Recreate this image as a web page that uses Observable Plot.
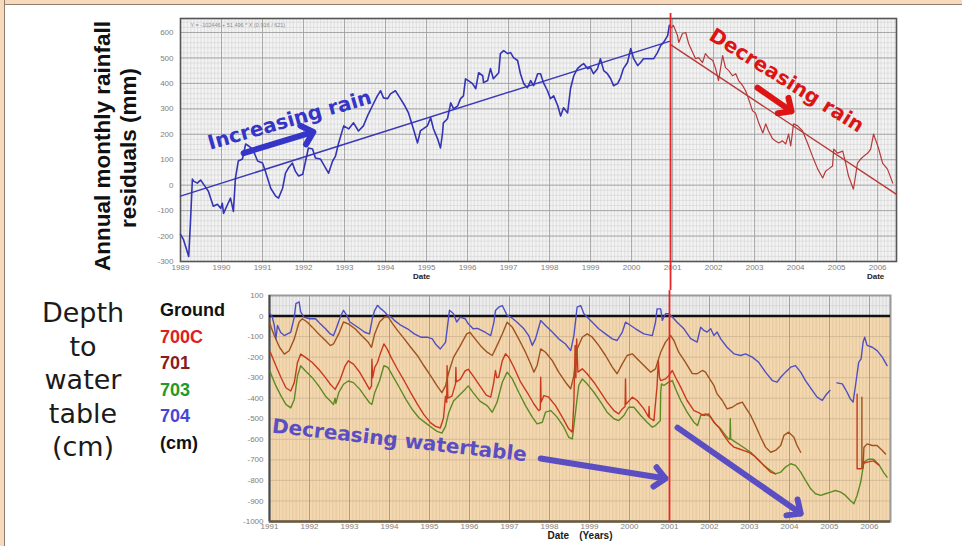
<!DOCTYPE html>
<html>
<head>
<meta charset="utf-8">
<script src="https://cdn.jsdelivr.net/npm/d3@7"></script>
<script src="https://cdn.jsdelivr.net/npm/@observablehq/plot@0.6"></script>
<style>
  html, body { margin: 0; padding: 0; background: #fff; }
  #page { position: relative; width: 962px; height: 546px; overflow: hidden; background: #fff;
          font-family: "Liberation Sans", Arial, sans-serif; }
  #page svg { position: absolute; left: 0; }
  .edge-top { position: absolute; left: 0; top: 0; width: 962px; height: 4px; background: #f7d9bb;
              border-bottom: 1.5px solid #8f7e70; }
  .edge-left { position: absolute; left: 0; top: 0; width: 4px; height: 546px; background: #f7d9bb;
               border-right: 1.5px solid #8f7e70; }
  .ylab { position: absolute; transform: translate(-50%, -50%) rotate(-90deg); white-space: nowrap;
          font-weight: bold; font-size: 22.5px; color: #111; }
  .depth { position: absolute; left: 20px; top: 296px; width: 126px; text-align: center;
           font-family: "DejaVu Sans", Verdana, sans-serif; font-size: 27px; line-height: 33.5px; color: #1b1b1b; }
  .legend { position: absolute; left: 160px; top: 297px; font-weight: bold; font-size: 18px; line-height: 26.6px; }
</style>
</head>
<body>
<div id="page">
  <div class="edge-top"></div>
  <div class="edge-left"></div>
</div>
<script>
// Annual monthly rainfall residuals (mm), rising phase 1989 – late 2000
const rainResidualsRising = [
  [1989.0,-193],[1989.07,-213],[1989.2,-280],[1989.24,-154],[1989.29,24],[1989.32,16],[1989.41,8],[1989.49,20],
  [1989.56,4],[1989.68,-24],[1989.8,-83],[1989.9,-75],[1989.98,-91],[1990.02,-71],[1990.05,-111],[1990.15,-75],
  [1990.22,-51],[1990.29,-103],[1990.34,28],[1990.41,95],[1990.51,103],[1990.59,162],[1990.66,154],[1990.76,142],
  [1990.88,95],[1991.0,87],[1991.07,55],[1991.2,-12],[1991.32,-43],[1991.39,-51],[1991.49,-12],[1991.56,47],
  [1991.63,67],[1991.73,87],[1991.8,55],[1991.88,36],[1991.98,43],[1992.05,95],[1992.12,146],[1992.22,142],
  [1992.29,107],[1992.41,103],[1992.54,67],[1992.61,47],[1992.71,95],[1992.78,114],[1992.85,162],[1992.98,233],
  [1993.1,221],[1993.22,245],[1993.34,213],[1993.46,233],[1993.56,272],[1993.68,312],[1993.8,351],[1993.88,371],
  [1993.95,343],[1994.05,340],[1994.12,359],[1994.24,371],[1994.32,351],[1994.44,320],[1994.56,284],[1994.68,221],
  [1994.78,166],[1994.85,213],[1995.02,233],[1995.1,265],[1995.17,221],[1995.27,182],[1995.34,146],[1995.39,205],
  [1995.41,245],[1995.51,261],[1995.59,324],[1995.66,300],[1995.76,312],[1995.83,340],[1995.9,351],[1995.95,418],
  [1996.02,411],[1996.12,399],[1996.2,379],[1996.27,442],[1996.37,430],[1996.39,403],[1996.49,411],[1996.56,458],
  [1996.63,418],[1996.76,442],[1996.8,517],[1996.88,529],[1996.98,517],[1997.05,521],[1997.12,501],[1997.22,490],
  [1997.29,438],[1997.37,399],[1997.46,383],[1997.54,411],[1997.61,391],[1997.71,438],[1997.78,438],[1997.85,403],
  [1997.95,371],[1998.02,340],[1998.1,351],[1998.2,312],[1998.27,272],[1998.34,304],[1998.44,284],[1998.51,379],
  [1998.59,430],[1998.68,458],[1998.76,470],[1998.83,478],[1998.93,458],[1999.0,462],[1999.07,438],[1999.17,458],
  [1999.24,497],[1999.32,450],[1999.41,438],[1999.49,418],[1999.56,391],[1999.66,399],[1999.73,422],[1999.8,458],
  [1999.9,482],[1999.98,537],[2000.05,497],[2000.15,470],[2000.22,482],[2000.29,497],[2000.39,497],[2000.46,497],
  [2000.54,497],[2000.63,521],[2000.71,549],[2000.78,561],[2000.88,588],[2000.92,628]
];

// Annual monthly rainfall residuals (mm), falling phase 2001 – 2006
const rainResidualsFalling = [
  [2000.95,616],[2001.02,628],[2001.12,588],[2001.15,561],[2001.24,596],[2001.32,600],[2001.39,557],[2001.49,521],
  [2001.56,497],[2001.63,501],[2001.73,482],[2001.8,517],[2001.88,501],[2001.98,490],[2002.05,458],[2002.12,411],
  [2002.22,509],[2002.29,462],[2002.37,450],[2002.46,430],[2002.54,438],[2002.61,411],[2002.71,391],[2002.78,371],
  [2002.85,340],[2002.95,292],[2003.02,284],[2003.1,245],[2003.2,205],[2003.27,241],[2003.34,213],[2003.44,182],
  [2003.51,174],[2003.59,166],[2003.68,174],[2003.76,162],[2003.83,201],[2003.88,154],[2003.95,241],[2004.05,233],
  [2004.17,213],[2004.29,166],[2004.41,114],[2004.54,63],[2004.66,28],[2004.73,55],[2004.8,63],[2004.9,75],
  [2004.93,142],[2005.02,126],[2005.15,134],[2005.22,87],[2005.29,36],[2005.41,-16],[2005.51,87],[2005.59,103],
  [2005.66,114],[2005.76,126],[2005.83,142],[2005.9,201],[2006.02,146],[2006.12,87],[2006.24,63],[2006.37,8]
];

// Linear trends fitted to each phase
const trendRising = [[1989.0, -43], [2000.92, 565]];
const trendFalling = [[2000.95, 552], [2006.46, -36]];

// Depth to water table (cm) at the bores
const depth704 = [
  [1991.02,10],[1991.07,-5],[1991.12,-46],[1991.16,-111],[1991.2,-46],[1991.28,-80],[1991.37,-95],[1991.45,-87],
  [1991.53,-79],[1991.62,-5],[1991.66,61],[1991.74,69],[1991.78,20],[1991.86,-5],[1992.0,-13],[1992.15,-13],
  [1992.27,-38],[1992.4,-62],[1992.52,-87],[1992.6,-95],[1992.68,-54],[1992.77,-5],[1992.85,28],[1992.93,3],
  [1993.01,-29],[1993.14,-46],[1993.26,-62],[1993.38,-79],[1993.5,-87],[1993.57,-13],[1993.63,28],[1993.7,52],
  [1993.78,36],[1993.88,20],[1993.96,3],[1994.04,-5],[1994.12,-21],[1994.29,-46],[1994.45,-62],[1994.62,-87],
  [1994.78,-103],[1994.94,-103],[1995.07,-111],[1995.15,-136],[1995.27,-160],[1995.4,-128],[1995.5,28],[1995.6,11],
  [1995.68,-29],[1995.77,-5],[1995.89,-13],[1995.97,-38],[1996.09,-62],[1996.2,-60],[1996.4,-80],[1996.53,-95],
  [1996.61,-30],[1996.65,27],[1996.73,43],[1996.82,51],[1996.88,27],[1996.94,3],[1997.03,-5],[1997.19,-30],
  [1997.36,-62],[1997.48,-95],[1997.57,-143],[1997.65,-111],[1997.78,-22],[1997.9,-46],[1998.07,-78],[1998.23,-111],
  [1998.4,-136],[1998.53,-168],[1998.61,-95],[1998.69,43],[1998.78,51],[1998.86,11],[1998.94,-5],[1999.07,-30],
  [1999.23,-62],[1999.4,-87],[1999.57,-111],[1999.69,-119],[1999.82,-78],[1999.9,-30],[2000.03,-46],[2000.15,-62],
  [2000.36,-87],[2000.57,-95],[2000.65,-30],[2000.69,35],[2000.78,35],[2000.82,-21],[2000.9,11],[2000.98,11],
  [2001.07,-5],[2001.19,-30],[2001.36,-62],[2001.53,-110],[2001.69,-127],[2001.78,-54],[2001.86,-70],[2001.94,-78],
  [2002.03,-62],[2002.11,-95],[2002.19,-78],[2002.28,-111],[2002.44,-152],[2002.61,-184],[2002.78,-192],[2002.9,-184],
  [2003.07,-200],[2003.23,-225],[2003.4,-273],[2003.57,-314],[2003.69,-322],[2003.78,-298],[2003.9,-273],[2004.03,-249],
  [2004.15,-241],[2004.28,-273],[2004.4,-314],[2004.57,-362],[2004.69,-395],[2004.82,-411],[2004.9,-387],[2005.01,-362],
  [2005.1,null],
  [2005.19,-325],[2005.32,-330],[2005.44,-371],[2005.52,-403],[2005.59,-419],[2005.65,-338],[2005.73,-225],[2005.79,-208],
  [2005.84,-127],[2005.88,-103],[2005.94,-143],[2006.07,-152],[2006.19,-168],[2006.32,-200],[2006.44,-241]
];

const depth701 = [
  [1991.02,-40],[1991.04,-54],[1991.12,-95],[1991.25,-152],[1991.37,-185],[1991.49,-169],[1991.62,-111],[1991.74,-29],
  [1991.82,-13],[1991.94,-29],[1992.07,-54],[1992.23,-87],[1992.4,-119],[1992.52,-144],[1992.6,-136],[1992.73,-87],
  [1992.85,-29],[1992.97,-38],[1993.14,-62],[1993.3,-95],[1993.47,-128],[1993.55,-152],[1993.63,-87],[1993.75,-29],
  [1993.88,-5],[1993.97,-5],[1994.08,-38],[1994.2,-70],[1994.37,-111],[1994.53,-152],[1994.7,-193],[1994.86,-242],
  [1995.03,-291],[1995.19,-340],[1995.31,-373],[1995.4,-340],[1995.48,-275],[1995.6,-201],[1995.77,-144],[1995.93,-87],
  [1996.01,-79],[1996.14,-111],[1996.3,-150],[1996.44,-176],[1996.57,-192],[1996.69,-143],[1996.82,-87],[1996.94,-30],
  [1997.07,-54],[1997.23,-111],[1997.4,-176],[1997.53,-233],[1997.61,-273],[1997.69,-241],[1997.78,-160],[1997.9,-176],
  [1998.07,-217],[1998.23,-273],[1998.4,-322],[1998.53,-354],[1998.61,-290],[1998.69,-160],[1998.82,-103],[1998.94,-87],
  [1999.07,-103],[1999.23,-143],[1999.4,-192],[1999.57,-249],[1999.69,-281],[1999.82,-233],[1999.94,-192],[2000.07,-184],
  [2000.19,-208],[2000.36,-241],[2000.53,-273],[2000.65,-257],[2000.78,-176],[2000.9,-127],[2001.03,-95],[2001.11,-119],
  [2001.23,-176],[2001.4,-225],[2001.57,-280],[2001.69,-281],[2001.82,-265],[2001.9,-273],[2001.98,-298],[2002.11,-338],
  [2002.19,-379],[2002.32,-411],[2002.44,-452],[2002.57,-444],[2002.69,-428],[2002.82,-419],[2002.9,-444],[2003.03,-484],
  [2003.15,-533],[2003.28,-590],[2003.4,-638],[2003.53,-663],[2003.65,-654],[2003.78,-630],[2003.86,-581],[2003.98,-565],
  [2004.11,-590],[2004.19,-630],[2004.28,-663],
  [2005.0,null],
  [2005.81,-395],[2005.81,-740],[2005.84,-740],[2005.86,-640],[2005.94,-622],[2006.07,-630],[2006.19,-630],[2006.32,-654],
  [2006.4,-671]
];

const depth700C = [
  [1991.02,-175],[1991.04,-185],[1991.16,-242],[1991.29,-300],[1991.41,-349],[1991.53,-365],[1991.62,-324],[1991.7,-226],
  [1991.78,-185],[1991.9,-201],[1992.07,-226],[1992.23,-259],[1992.4,-300],[1992.52,-332],[1992.64,-357],[1992.77,-308],
  [1992.89,-242],[1992.97,-218],[1993.1,-234],[1993.26,-275],[1993.38,-316],[1993.5,-357],[1993.55,-340],[1993.56,-210],
  [1993.58,-300],[1993.63,-250],[1993.7,-226],[1993.78,-177],[1993.86,-136],[1993.94,-160],[1994.04,-201],[1994.2,-259],
  [1994.37,-316],[1994.53,-373],[1994.7,-430],[1994.86,-480],[1995.03,-520],[1995.15,-537],[1995.27,-545],[1995.35,-496],
  [1995.4,-390],[1995.43,-420],[1995.44,-242],[1995.46,-400],[1995.56,-390],[1995.65,-330],[1995.66,-250],[1995.67,-320],
  [1995.77,-308],[1995.89,-267],[1995.97,-259],[1996.09,-291],[1996.26,-340],[1996.42,-385],[1996.53,-395],[1996.6,-330],
  [1996.65,-265],[1996.68,-300],[1996.73,-298],[1996.82,-217],[1996.9,-184],[1996.98,-200],[1997.11,-249],[1997.28,-322],
  [1997.44,-371],[1997.61,-428],[1997.73,-460],[1997.77,-455],[1997.78,-298],[1997.79,-420],[1997.86,-387],[1997.98,-395],
  [1998.15,-436],[1998.32,-492],[1998.48,-549],[1998.57,-565],[1998.61,-419],[1998.64,-143],[1998.66,-300],[1998.68,-111],
  [1998.71,-273],[1998.82,-257],[1998.94,-281],[1999.11,-322],[1999.28,-371],[1999.44,-419],[1999.61,-460],[1999.73,-476],
  [1999.82,-452],[1999.89,-440],[1999.9,-306],[1999.91,-430],[2000.07,-395],[2000.19,-411],[2000.36,-452],[2000.48,-492],
  [2000.49,-440],[2000.5,-495],[2000.61,-509],[2000.69,-338],[2000.72,-217],[2000.75,-300],[2000.78,-314],[2000.9,-306],
  [2000.98,-290],[2001.07,-265],[2001.15,-298],[2001.28,-346],[2001.44,-411],[2001.61,-460],[2001.73,-470],[2001.78,-476],
  [2001.86,-484],[2001.98,-476],[2002.11,-517],[2002.23,-541],[2002.36,-581],[2002.48,-614],[2002.61,-638],[2002.73,-646],
  [2002.86,-655],[2002.98,-663],[2003.11,-679],[2003.28,-711],[2003.4,-735],[2003.53,-760],[2003.65,-768],
  [2004.5,null],
  [2005.69,-380],[2005.69,-743],[2005.8,-743],[2005.86,-715],[2005.97,-710],[2006.1,-705],[2006.23,-725]
];

const depth703 = [
  [1991.02,-270],[1991.04,-283],[1991.16,-340],[1991.29,-390],[1991.41,-430],[1991.53,-447],[1991.62,-406],[1991.7,-291],
  [1991.78,-242],[1991.9,-267],[1992.07,-300],[1992.23,-340],[1992.4,-390],[1992.52,-414],[1992.6,-430],[1992.64,-400],
  [1992.66,-425],[1992.73,-373],[1992.85,-332],[1992.97,-316],[1993.1,-324],[1993.26,-357],[1993.38,-390],[1993.5,-422],
  [1993.56,-430],[1993.63,-373],[1993.75,-316],[1993.86,-242],[1993.96,-250],[1994.08,-291],[1994.25,-349],[1994.41,-406],
  [1994.57,-455],[1994.74,-496],[1994.9,-520],[1995.07,-545],[1995.19,-561],[1995.31,-570],[1995.4,-537],[1995.48,-471],
  [1995.6,-414],[1995.77,-381],[1995.89,-357],[1995.97,-340],[1996.09,-373],[1996.26,-414],[1996.44,-436],[1996.57,-468],
  [1996.69,-419],[1996.82,-322],[1996.94,-273],[1997.07,-306],[1997.23,-371],[1997.4,-436],[1997.57,-492],[1997.69,-525],
  [1997.82,-517],[1997.9,-468],[1998.03,-460],[1998.19,-492],[1998.36,-541],[1998.48,-590],[1998.57,-598],[1998.65,-468],
  [1998.73,-338],[1998.82,-306],[1998.94,-330],[1999.11,-371],[1999.28,-419],[1999.44,-468],[1999.61,-500],[1999.73,-509],
  [1999.86,-484],[1999.98,-444],[2000.11,-444],[2000.28,-484],[2000.44,-517],[2000.57,-541],[2000.65,-533],[2000.73,-517],
  [2000.77,-510],[2000.78,-371],[2000.8,-330],[2000.86,-338],[2000.98,-322],[2001.07,-314],[2001.15,-354],[2001.28,-411],
  [2001.44,-468],[2001.61,-517],[2001.7,-533],[2001.78,-484],[2001.9,-476],[2002.03,-492],[2002.15,-525],[2002.28,-549],
  [2002.4,-581],[2002.48,-598],[2002.51,-600],[2002.52,-500],[2002.53,-598],[2002.65,-614],[2002.78,-630],[2002.9,-646],
  [2003.03,-663],[2003.19,-695],[2003.36,-728],[2003.53,-752],[2003.65,-768],[2003.78,-760],[2003.9,-735],[2004.03,-719],
  [2004.15,-727],[2004.28,-760],[2004.4,-800],[2004.53,-841],[2004.65,-865],[2004.78,-873],[2004.9,-865],[2005.03,-857],
  [2005.15,-849],[2005.28,-857],[2005.4,-873],[2005.52,-898],[2005.61,-914],[2005.69,-873],[2005.78,-808],[2005.86,-711],
  [2005.97,-697],[2006.1,-697],[2006.23,-722],[2006.36,-763],[2006.44,-784]
];

// Axis ticks
const rainYears = d3.range(1989, 2007);
const rainTicks = [600, 500, 400, 300, 200, 100, 0, -100, -200, -300];
const depthYears = d3.range(1991, 2007);
const depthTicks = [100, 0, -100, -200, -300, -400, -500, -600, -700, -800, -900, -1000];

const fx = (d) => d[0];
const fy = (d) => d[1];
const plain = (d) => String(d);
const arrowStyle = { strokeWidth: 6, headLength: 3.6, headAngle: 85, strokeLinejoin: "miter" };

// ---------- rainfall residuals ----------
const rainX = [1989, 2006.46];
const rainChart = Plot.plot({
  width: 962, height: 290,
  marginLeft: 180, marginRight: 66, marginTop: 18, marginBottom: 29,
  style: { background: "transparent", fontFamily: "'Liberation Sans', Arial, sans-serif", fontSize: "8px", color: "#808080", overflow: "visible" },
  x: { domain: rainX },
  y: { domain: [-300, 655] },
  marks: [
    Plot.frame({ fill: "#f3f3f3", stroke: null }),
    Plot.ruleX(d3.range(rainX[0], rainX[1], 1 / 12), { stroke: "#d3d3d3", strokeWidth: 0.6 }),
    Plot.ruleY(d3.range(-300, 655, 20), { stroke: "#d3d3d3", strokeWidth: 0.6 }),
    Plot.ruleX(rainYears, { stroke: "#a0a0a0", strokeWidth: 0.9 }),
    Plot.ruleY(rainTicks, { stroke: "#a0a0a0", strokeWidth: 0.9 }),
    Plot.frame({ stroke: "#555", strokeWidth: 1.6 }),
    Plot.axisX({ ticks: rainYears, tickFormat: plain, tickSize: 0, tickPadding: 3, label: null }),
    Plot.axisY({ ticks: rainTicks, tickFormat: plain, tickSize: 0, tickPadding: 7, label: null }),
    Plot.text(["Date"], { x: 1994.88, y: -300, dy: 15, fontWeight: "bold", fill: "#222", fontSize: 8 }),
    Plot.text(["Date"], { x: 2005.95, y: -300, dy: 15, fontWeight: "bold", fill: "#222", fontSize: 8 }),
    Plot.text(["Y = -102446 + 51.496 * X (0.916 / 621)"], { frameAnchor: "top-left", dx: 10, dy: 5, fontSize: 5.5, fill: "#8a8a8a" }),
    Plot.line(trendRising, { x: fx, y: fy, stroke: "#3a3ab8", strokeWidth: 1.5 }),
    Plot.line(trendFalling, { x: fx, y: fy, stroke: "#b83a3a", strokeWidth: 1.4 }),
    Plot.line(rainResidualsRising, { x: fx, y: fy, stroke: "#3434b4", strokeWidth: 1.6 }),
    Plot.line(rainResidualsFalling, { x: fx, y: fy, stroke: "#b53a3a", strokeWidth: 1.2 }),
    Plot.ruleX([2000.95], { y1: -414, y2: 675, stroke: "#e8262a", strokeWidth: 1.8 }),
    Plot.text(["Increasing rain"], { x: 1991.66, y: 255, rotate: -16, fontFamily: "'DejaVu Sans', Verdana, sans-serif", fontWeight: "bold", fontSize: 20, fill: "#3535c8" }),
    Plot.arrow([0], { x1: 1990.54, y1: 126, x2: 1992.24, y2: 209, stroke: "#3535c8", ...arrowStyle }),
    Plot.text(["Decreasing rain"], { x: 2003.78, y: 411, rotate: 32, fontFamily: "'DejaVu Sans', Verdana, sans-serif", fontWeight: "bold", fontSize: 20, fill: "#dd1414" }),
    Plot.arrow([0], { x1: 2003.07, y1: 383, x2: 2003.9, y2: 290, stroke: "#dd1414", ...arrowStyle })
  ]
});
rainChart.style.top = "0px";

// ---------- depth to water table ----------
const depthX = [1991, 2006.525];
const depthChart = Plot.plot({
  width: 962, height: 256,
  marginLeft: 269, marginRight: 72, marginTop: 5, marginBottom: 25,
  style: { background: "transparent", fontFamily: "'Liberation Sans', Arial, sans-serif", fontSize: "8px", color: "#808080", overflow: "visible" },
  x: { domain: depthX },
  y: { domain: [-1000, 100] },
  marks: [
    Plot.rect([0], { x1: depthX[0], x2: depthX[1], y1: 0, y2: 100, fill: "#ececec" }),
    Plot.rect([0], { x1: depthX[0], x2: depthX[1], y1: -1000, y2: 0, fill: "#f3d7ae" }),
    Plot.ruleX(d3.range(depthX[0], depthX[1], 1 / 12), { y1: -1000, y2: 0, stroke: "#e1c39b", strokeWidth: 0.7 }),
    Plot.ruleX(d3.range(depthX[0], depthX[1], 1 / 12), { y1: 0, y2: 100, stroke: "#d0d0d0", strokeWidth: 0.7 }),
    Plot.ruleY(depthTicks.filter((d) => d < 0), { stroke: "#cdb493", strokeWidth: 0.8 }),
    Plot.ruleY([50], { stroke: "#d0d0d0", strokeWidth: 0.7 }),
    Plot.ruleX(depthYears, { stroke: "#b29d82", strokeWidth: 1 }),
    Plot.frame({ stroke: "#9a9a9a", strokeWidth: 2 }),
    Plot.ruleX([1991], { y1: -1000, y2: 100, stroke: "#4a4a4a", strokeWidth: 2 }),
    Plot.ruleY([-1000], { stroke: "#6a5a40", strokeWidth: 2.5 }),
    Plot.axisX({ ticks: depthYears, tickFormat: plain, tickSize: 0, tickPadding: 2, label: null }),
    Plot.axisY({ ticks: depthTicks, tickFormat: plain, tickSize: 0, tickPadding: 6, label: null }),
    Plot.text(["Date\u2003(Years)"], { frameAnchor: "bottom", dy: 17, fontWeight: "bold", fontSize: 10, fill: "#1a1a1a" }),
    Plot.ruleY([0], { stroke: "#111", strokeWidth: 2.6 }),
    Plot.line(depth703, { x: fx, y: fy, stroke: "#5f8a22", strokeWidth: 1.4 }),
    Plot.line(depth700C, { x: fx, y: fy, stroke: "#c93a1c", strokeWidth: 1.4 }),
    Plot.line(depth701, { x: fx, y: fy, stroke: "#a0521f", strokeWidth: 1.4 }),
    Plot.line(depth704, { x: fx, y: fy, stroke: "#4f4fc4", strokeWidth: 1.4 }),
    Plot.ruleX([2001], { y1: -1000, y2: 124, stroke: "#e8262a", strokeWidth: 1.8 }),
    Plot.text(["Decreasing watertable"], { x: 1994.25, y: -606, rotate: 6.5, fontFamily: "'DejaVu Sans', Verdana, sans-serif", fontWeight: "bold", fontSize: 20, fill: "#5a4ec2" }),
    Plot.arrow([0], { x1: 1997.78, y1: -693, x2: 2000.9, y2: -791, stroke: "#5a4ec2", ...arrowStyle }),
    Plot.arrow([0], { x1: 2001.2, y1: -543, x2: 2004.28, y2: -961, stroke: "#5a4ec2", ...arrowStyle })
  ]
});
depthChart.style.top = "290px";

const page = document.getElementById("page");
page.append(rainChart, depthChart);

// Side titles and legend
const ylab1 = document.createElement("div");
ylab1.className = "ylab";
ylab1.style.left = "103px"; ylab1.style.top = "146px";
ylab1.textContent = "Annual monthly rainfall";
const ylab2 = document.createElement("div");
ylab2.className = "ylab";
ylab2.style.left = "129px"; ylab2.style.top = "148px";
ylab2.textContent = "residuals (mm)";
page.append(ylab1, ylab2);

const depthTitle = document.createElement("div");
depthTitle.className = "depth";
depthTitle.innerHTML = ["Depth", "to", "water", "table", "(cm)"].join("<br>");
page.append(depthTitle);

const legendItems = [
  ["Ground", "#111"], ["700C", "#dd2020"], ["701", "#8b1c1c"],
  ["703", "#1f9a28"], ["704", "#4646d6"], ["(cm)", "#111"]
];
const legend = document.createElement("div");
legend.className = "legend";
for (const [label, color] of legendItems) {
  const row = document.createElement("div");
  row.textContent = label;
  row.style.color = color;
  legend.append(row);
}
page.append(legend);
</script>
</body>
</html>
